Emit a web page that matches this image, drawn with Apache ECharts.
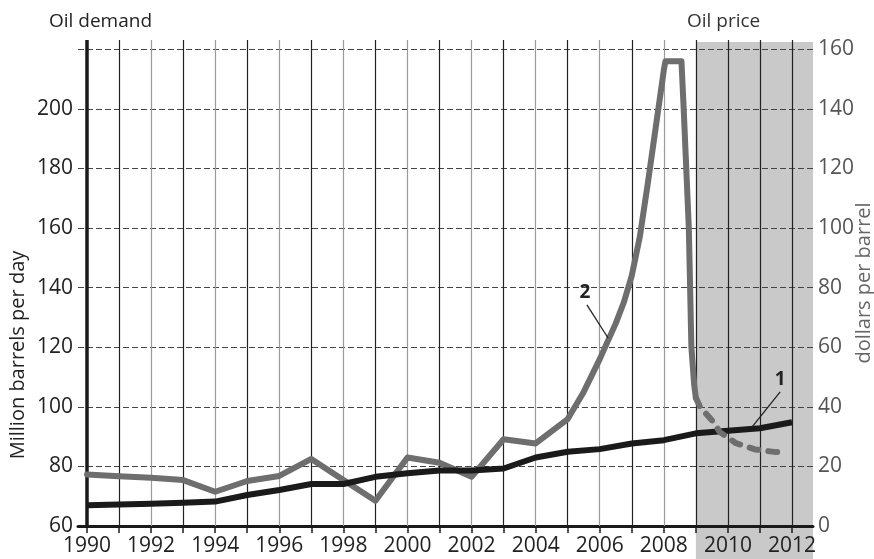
<!DOCTYPE html>
<html>
<head>
<meta charset="utf-8">
<script src="https://cdn.jsdelivr.net/npm/echarts@6/dist/echarts.min.js"></script>
<style>
html,body{margin:0;padding:0;background:#fff;}
#chart{width:874px;height:559px;}
</style>
</head>
<body>
<div id="chart"></div>
<script>
// ---- data ----
const years = [1990,1991,1992,1993,1994,1995,1996,1997,1998,1999,2000,2001,2002,2003,2004,2005,2006,2007,2008,2009,2010,2011,2012];
const yearLabels = [1990,1992,1994,1996,1998,2000,2002,2004,2006,2008,2010,2012];
// Oil demand, million barrels per day (left axis)
const demand = [67.0,67.2,67.5,67.8,68.2,70.4,72.1,74.1,74.1,76.5,77.7,78.6,78.6,79.3,83.0,84.9,85.8,87.7,88.8,91.1,92.0,92.8,94.8];
// Oil price, dollars per barrel (right axis) - actual
const priceX = [1990,1991,1992,1993,1994,1995,1996,1997,1998,1999,2000,2001,2002,2003,2004,2005,2005.5,2006.0,2006.5,2006.75,2007.0,2007.25,2007.5,2007.75,2008.0,2008.05,2008.55,2008.62,2008.7,2008.78,2008.82,2008.86,2008.95,2009.0];
const priceY = [17.3,16.7,16.2,15.4,11.5,15.1,16.8,22.5,15.4,8.5,23.0,21.2,16.5,29.1,27.7,35.9,45,56,68,75,84,97,115,134,153,156,156,140,120,100,80,60,47,43];
// Oil price - forecast (dashed)
const forecastX = [2009.0,2009.13,2009.5,2009.75,2010.25,2010.85,2011.5,2011.75];
const forecastY = [43,40,35.5,31.5,27.8,25.7,24.8,24.8];
const leftTicks = [60,80,100,120,140,160,180,200];
const rightTicks = [0,20,40,60,80,100,120,140,160];
const forecastStart = 2009;
// annotations (data coordinates)
const note1 = {text:'1', label:[2011.63,109.0], from:[2011.63,105.0], to:[2010.75,93.2]};
const note2 = {text:'2', label:[2005.54,78.2], from:[2005.60,74.2], to:[2006.26,63.1]};

const FONT = 'Open Sans';
const xMin = 1989.719, xMax = 2012.655;

const chart = echarts.init(document.getElementById('chart'));
const gridLine = {type:[6,3], color:'#444', width:1};
const plain = function(v){ return String(Math.round(v)); };

chart.setOption({
  animation:false,
  backgroundColor:'#fff',
  textStyle:{fontFamily:FONT},
  title:[
    {text:'Oil demand', left:44, top:7, textStyle:{fontFamily:FONT, fontSize:19, fontWeight:'normal', color:'#222'}},
    {text:'Oil price', left:682, top:7, textStyle:{fontFamily:FONT, fontSize:19, fontWeight:'normal', color:'#333'}}
  ],
  graphic:[
    {type:'text', x:18, y:355, rotation:Math.PI/2, style:{text:'Million barrels per day', align:'center', verticalAlign:'middle', font:'20px "Open Sans"', fill:'#222'}},
    {type:'text', x:864, y:283, rotation:Math.PI/2, style:{text:'dollars per barrel', align:'center', verticalAlign:'middle', font:'20px "Open Sans"', fill:'#666'}}
  ],
  grid:[
    {left:78, right:61, top:40, bottom:33},
    {left:78, right:61, top:42, bottom:0}
  ],
  xAxis:[
    {type:'value', gridIndex:0, min:xMin, max:xMax,
     axisLine:{show:true, lineStyle:{color:'#1a1a1a', width:3}},
     axisTick:{show:true, customValues:years, length:7, lineStyle:{color:'#1a1a1a', width:1.5}},
     axisLabel:{customValues:yearLabels, formatter:plain, margin:10, fontSize:21, color:'#222', fontFamily:FONT},
     splitLine:{show:false}},
    {type:'value', gridIndex:1, min:xMin, max:xMax, show:false, splitLine:{show:false}}
  ],
  yAxis:[
    {type:'value', gridIndex:0, min:60, max:223.1, interval:20, position:'left',
     axisLine:{show:false}, axisTick:{show:false},
     axisLabel:{customValues:leftTicks, formatter:plain, margin:5, fontSize:21, color:'#222', fontFamily:FONT},
     splitLine:{show:true, showMinLine:false, showMaxLine:false, lineStyle:gridLine}},
    {type:'value', gridIndex:0, min:0, max:163.1, interval:20, position:'right',
     axisLine:{show:false}, axisTick:{show:false},
     axisLabel:{customValues:rightTicks, formatter:plain, margin:5, fontSize:21, color:'#555', fontFamily:FONT},
     splitLine:{show:false}},
    {type:'value', gridIndex:1, min:0, max:1, show:false, splitLine:{show:false}}
  ],
  series:[
    // shaded forecast region
    {type:'line', xAxisIndex:1, yAxisIndex:2, data:[], silent:true, z:-2,
     markArea:{silent:true, z:-2, itemStyle:{color:'#c9c9c9'},
       data:[[{xAxis:forecastStart},{xAxis:'max'}]]}},
    // vertical year grid lines
    {type:'line', xAxisIndex:0, yAxisIndex:0, data:[], silent:true,
     markLine:{silent:true, z:1, symbol:['none','none'], label:{show:false},
       data: years.map(function(y, i){
         let color = (i % 2 === 1 || y >= forecastStart) ? '#222' : '#9a9a9a';
         let width = i === 0 ? 3.5 : 1.2;
         if (i === 0) color = '#1a1a1a';
         return {xAxis:y, lineStyle:{type:'solid', color:color, width:width}};
       })}},
    // oil price actual
    {name:'price', type:'line', xAxisIndex:0, yAxisIndex:1, z:3,
     data: priceX.map(function(x,i){return [x, priceY[i]];}),
     showSymbol:false, symbol:'none',
     lineStyle:{color:'#6e6e6e', width:6, join:'round', cap:'round'},
     markLine:{silent:true, z:6, symbol:['none','none'], label:{show:false},
       lineStyle:{type:'solid', color:'#222', width:1.3},
       data:[[{coord:note2.from},{coord:note2.to}]]},
     markPoint:{silent:true, z:6, symbol:'circle', symbolSize:0,
       label:{show:true, position:'inside', formatter:note2.text, fontSize:19, fontWeight:'bold', color:'#222', fontFamily:FONT},
       data:[{coord:note2.label}]}},
    // oil demand
    {name:'demand', type:'line', xAxisIndex:0, yAxisIndex:0, z:4,
     data: years.map(function(x,i){return [x, demand[i]];}),
     showSymbol:false, symbol:'none',
     lineStyle:{color:'#1a1a1a', width:6, join:'round'},
     markLine:{silent:true, z:6, symbol:['none','none'], label:{show:false},
       lineStyle:{type:'solid', color:'#222', width:1.3},
       data:[[{coord:note1.from},{coord:note1.to}]]},
     markPoint:{silent:true, z:6, symbol:'circle', symbolSize:0,
       label:{show:true, position:'inside', formatter:note1.text, fontSize:19, fontWeight:'bold', color:'#222', fontFamily:FONT},
       data:[{coord:note1.label}]}},
    // oil price forecast (dashed)
    {name:'forecast', type:'line', xAxisIndex:0, yAxisIndex:1, z:5,
     data: forecastX.map(function(x,i){return [x, forecastY[i]];}),
     showSymbol:false, symbol:'none',
     lineStyle:{color:'#6e6e6e', width:6, type:[9,10], cap:'round', join:'round'}}
  ]
});
</script>
</body>
</html>
